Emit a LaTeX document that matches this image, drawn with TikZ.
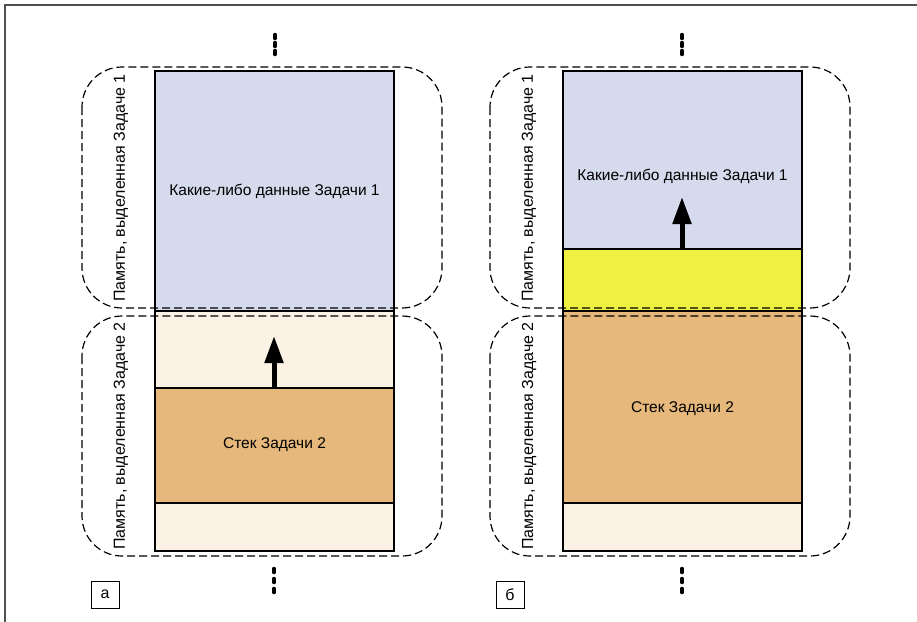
\documentclass[tikz,border=0pt]{standalone}
\usepackage{fontspec}
\setmainfont{Liberation Sans}
\usetikzlibrary{arrows.meta}
\definecolor{cblue}{HTML}{D5DAEC}
\definecolor{cbeige}{HTML}{FBF2E5}
\definecolor{corange}{HTML}{E6B87C}
\definecolor{cyellow}{HTML}{F0F042}
\definecolor{cframe}{HTML}{505050}
\begin{document}
\begin{tikzpicture}[x=1pt,y=-1pt,
  colborder/.style={draw=black,line width=1.1pt},
  divline/.style={draw=black,line width=1.1pt},
  region/.style={draw=black,dash pattern=on 8pt off 4pt,line width=1.2pt,rounded corners=40pt},
  vdots/.style={line width=3.5pt,line cap=round},
  arr/.style={-{Triangle[length=27pt,width=18pt]},line width=5pt},
  lbl/.style={font=\fontsize{15.5}{18}\selectfont,inner sep=0pt},
  vlbl/.style={font=\fontsize{16}{18}\selectfont,rotate=90,inner sep=0pt},
  tag/.style={draw,line width=1pt,minimum width=28pt,minimum height=27pt,inner sep=0pt,font=\fontsize{16}{18}\selectfont}
]
\useasboundingbox (0,0) rectangle (917,621);
\clip (0,0) rectangle (917,621);
\draw[cframe,line width=2pt] (5,5) rectangle (1000,700);

% ---------- panel a ----------
\fill[cblue] (155,71) rectangle (394,311);
\fill[cbeige] (155,311) rectangle (394,388);
\fill[corange] (155,388) rectangle (394,503);
\fill[cbeige] (155,503) rectangle (394,551);
\draw[divline] (155,311) -- (394,311);
\draw[divline] (155,388) -- (394,388);
\draw[divline] (155,503) -- (394,503);
\draw[colborder] (155,71) rectangle (394,551);
\node[lbl] (a1) at (274.5,191) {Какие-либо данные Задачи 1};
\node[lbl] (a2) at (274.5,445) {Стек Задачи 2};
\coordinate (aArS) at (274,388);
\coordinate (aArE) at (274,336);
\draw[arr] (aArS) -- (aArE);
\draw[region] (82,67) rectangle (442,308);
\draw[region] (82,316) rectangle (442,556);
\node[vlbl] (av1) at (121,188) {Память, выделенная Задаче 1};
\node[vlbl] (av2) at (121,436) {Память, выделенная Задаче 2};
\foreach \y in {36.5,44.5,52.5} \draw[vdots] (275,\y-2) -- (275,\y+2);
\foreach \y in {570.5,580.5,590.5} \draw[vdots] (274,\y-2) -- (274,\y+2);
\node[tag] (ta) at (105,594.5) {а};

% ---------- panel b ----------
\fill[cblue] (563,71) rectangle (802,249);
\fill[cyellow] (563,249) rectangle (802,311);
\fill[corange] (563,311) rectangle (802,503);
\fill[cbeige] (563,503) rectangle (802,551);
\draw[divline] (563,249) -- (802,249);
\draw[divline] (563,311) -- (802,311);
\draw[divline] (563,503) -- (802,503);
\draw[colborder] (563,71) rectangle (802,551);
\node[lbl] (b1) at (682.5,176) {Какие-либо данные Задачи 1};
\node[lbl] (b2) at (682.5,409) {Стек Задачи 2};
\coordinate (bArS) at (682,249);
\coordinate (bArE) at (682,197);
\draw[arr] (bArS) -- (bArE);
\draw[region] (490,67) rectangle (850,308);
\draw[region] (490,316) rectangle (850,556);
\node[vlbl] (bv1) at (529,188) {Память, выделенная Задаче 1};
\node[vlbl] (bv2) at (529,436) {Память, выделенная Задаче 2};
\foreach \y in {36.5,44.5,52.5} \draw[vdots] (682,\y-2) -- (682,\y+2);
\foreach \y in {570.5,580.5,590.5} \draw[vdots] (682,\y-2) -- (682,\y+2);
\node[tag] (tb) at (510,594.5) {б};
\end{tikzpicture}
\end{document}
